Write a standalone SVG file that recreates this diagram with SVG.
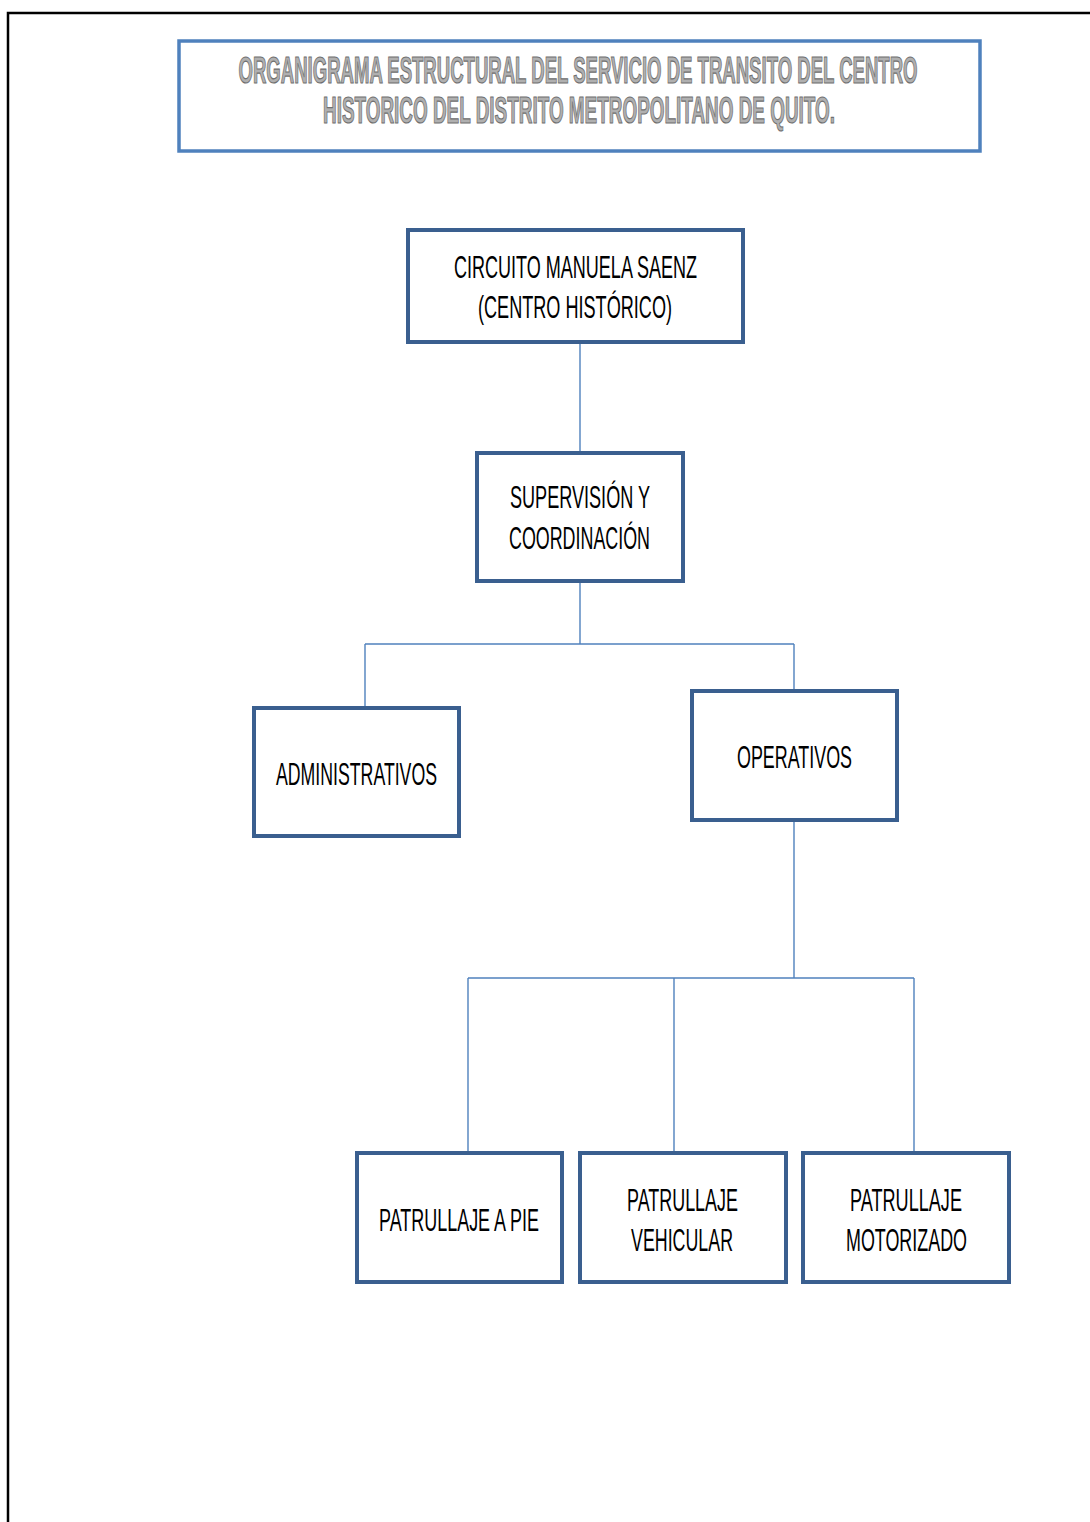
<svg xmlns="http://www.w3.org/2000/svg" width="1090" height="1522" viewBox="0 0 1090 1522">
<style>
.node rect{fill:#fff;stroke:#3a5f8f;stroke-width:4}
.lbl{font-family:"Liberation Sans Narrow","Liberation Sans",Arial,sans-serif;font-size:32px;fill:#000;text-anchor:middle}
.title{font-family:"Liberation Sans Narrow","Liberation Sans",Arial,sans-serif;font-size:37px;font-weight:bold;fill:#b0b0b0;stroke:#6f6f6f;stroke-width:1.2;text-anchor:middle}
.conn line{stroke:#4f81bd;stroke-width:1.4}
</style>
<rect width="1090" height="1522" fill="#fff"/>
<polyline points="1090,13 8,13 8,1522" fill="none" stroke="#000" stroke-width="2.5"/>
<g id="title">
<rect x="179" y="41" width="801" height="110" fill="#fff" stroke="#4f81bd" stroke-width="3.5"/>
<text class="title" x="578" y="83" textLength="679" lengthAdjust="spacingAndGlyphs">ORGANIGRAMA ESTRUCTURAL DEL SERVICIO DE TRANSITO DEL CENTRO</text>
<text class="title" x="579" y="123" textLength="512" lengthAdjust="spacingAndGlyphs">HISTORICO DEL DISTRITO METROPOLITANO DE QUITO.</text>
</g>
<g id="connectors" class="conn">
<line x1="580" y1="342" x2="580" y2="453"/>
<line x1="580" y1="581" x2="580" y2="644"/>
<line x1="365" y1="644" x2="794" y2="644"/>
<line x1="365" y1="644" x2="365" y2="708"/>
<line x1="794" y1="644" x2="794" y2="691"/>
<line x1="794" y1="820" x2="794" y2="978"/>
<line x1="468" y1="978" x2="914" y2="978"/>
<line x1="468" y1="978" x2="468" y2="1153"/>
<line x1="674" y1="978" x2="674" y2="1153"/>
<line x1="914" y1="978" x2="914" y2="1153"/>
</g>
<g id="circuito" class="node">
<rect x="408" y="230" width="335" height="112"/>
<text class="lbl" x="575.5" y="278" textLength="243" lengthAdjust="spacingAndGlyphs">CIRCUITO MANUELA SAENZ</text>
<text class="lbl" x="575" y="318" textLength="194" lengthAdjust="spacingAndGlyphs">(CENTRO HISTÓRICO)</text>
</g>
<g id="supervision" class="node">
<rect x="477" y="453" width="206" height="128"/>
<text class="lbl" x="580" y="508" textLength="140" lengthAdjust="spacingAndGlyphs">SUPERVISIÓN Y</text>
<text class="lbl" x="579.5" y="549" textLength="141" lengthAdjust="spacingAndGlyphs">COORDINACIÓN</text>
</g>
<g id="administrativos" class="node">
<rect x="254" y="708" width="205" height="128"/>
<text class="lbl" x="356.5" y="785" textLength="161" lengthAdjust="spacingAndGlyphs">ADMINISTRATIVOS</text>
</g>
<g id="operativos" class="node">
<rect x="692" y="691" width="205" height="129"/>
<text class="lbl" x="794.5" y="768" textLength="115" lengthAdjust="spacingAndGlyphs">OPERATIVOS</text>
</g>
<g id="pie" class="node">
<rect x="357" y="1153" width="205" height="129"/>
<text class="lbl" x="459" y="1231" textLength="160" lengthAdjust="spacingAndGlyphs">PATRULLAJE A PIE</text>
</g>
<g id="vehicular" class="node">
<rect x="580" y="1153" width="206" height="129"/>
<text class="lbl" x="682.5" y="1211" textLength="111" lengthAdjust="spacingAndGlyphs">PATRULLAJE</text>
<text class="lbl" x="682" y="1251" textLength="102" lengthAdjust="spacingAndGlyphs">VEHICULAR</text>
</g>
<g id="motorizado" class="node">
<rect x="803" y="1153" width="206" height="129"/>
<text class="lbl" x="906" y="1211" textLength="112" lengthAdjust="spacingAndGlyphs">PATRULLAJE</text>
<text class="lbl" x="906.5" y="1251" textLength="121" lengthAdjust="spacingAndGlyphs">MOTORIZADO</text>
</g>
</svg>
